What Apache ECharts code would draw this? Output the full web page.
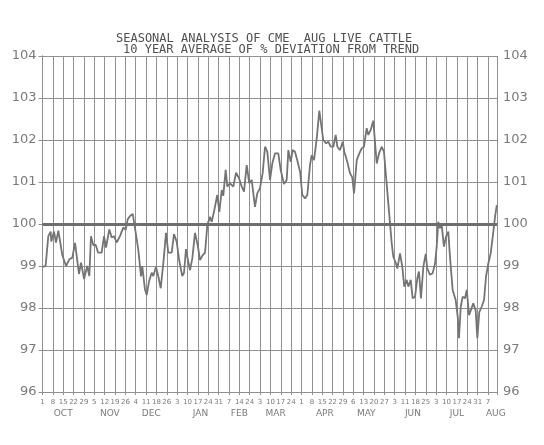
<!DOCTYPE html>
<html>
<head>
<meta charset="utf-8">
<script src="https://cdn.jsdelivr.net/npm/echarts@6/dist/echarts.min.js"></script>
<style>
  html, body { margin: 0; padding: 0; background: #fff; }
  #seasonal { width: 544px; height: 445px; }
</style>
</head>
<body>
<div id="seasonal"></div>
<script>
// week ticks, Oct 1 .. Aug 7 (one per grid line)
const weekLabels = ['1', '8', '15', '22', '29', '5', '12', '19', '26', '4', '11', '18', '26',
    '3', '10', '17', '24', '31', '7', '14', '24', '3', '10', '17', '24', '1', '8', '15', '22', '29',
    '6', '13', '20', '27', '3', '11', '18', '25', '3', '10', '17', '24', '31', '7'];
const monthNames = ['OCT', 'NOV', 'DEC', 'JAN', 'FEB', 'MAR', 'APR', 'MAY', 'JUN', 'JUL', 'AUG'];
const monthPos = [2, 6.5, 10.5, 15.25, 19, 22.5, 27.25, 31.25, 35.75, 40, 43.75];
const yTicks = [96, 97, 98, 99, 100, 101, 102, 103, 104];

// position in weeks since Oct 1
const weekPos = [0, 0.3, 0.56, 0.79, 0.85, 1.11, 1.3, 1.53, 1.69, 1.91, 2.27, 2.59, 2.88, 3.14, 3.52, 3.72,
    4.01, 4.1, 4.32, 4.52, 4.68, 4.9, 5.14, 5.36, 5.71, 5.94, 6.13, 6.45, 6.68, 6.9, 7.16, 7.48, 7.8,
    8.03, 8.22, 8.45, 8.71, 8.93, 9.25, 9.51, 9.63, 9.89, 10.06, 10.28, 10.54, 10.69, 10.96, 11.18,
    11.41, 11.66, 11.92, 12.14, 12.47, 12.69, 12.95, 13.2, 13.49, 13.66, 13.85, 14.07, 14.24, 14.46,
    14.72, 14.98, 15.2, 15.42, 15.69, 15.91, 16.17, 16.33, 16.55, 16.87, 17.07, 17.3, 17.45, 17.68,
    17.84, 18.1, 18.42, 18.68, 18.97, 19.23, 19.45, 19.71, 19.96, 20.19, 20.51, 20.73, 20.99, 21.25,
    21.48, 21.7, 21.96, 22.18, 22.44, 22.76, 22.99, 23.31, 23.57, 23.73, 23.96, 24.15, 24.37, 24.59,
    24.86, 25.08, 25.34, 25.56, 25.82, 25.98, 26.21, 26.47, 26.72, 26.88, 27.1, 27.37, 27.59, 27.82,
    28.07, 28.3, 28.46, 28.72, 28.98, 29.13, 29.42, 29.68, 29.9, 30.07, 30.33, 30.58, 30.81, 31.03,
    31.29, 31.45, 31.68, 31.93, 32.09, 32.26, 32.48, 32.74, 32.96, 33.16, 33.38, 33.54, 33.71, 33.86,
    34.12, 34.25, 34.51, 34.73, 34.92, 35.15, 35.31, 35.54, 35.73, 35.96, 36.18, 36.34, 36.53, 36.76,
    36.99, 37.14, 37.4, 37.66, 37.89, 38.05, 38.2, 38.37, 38.53, 38.75, 38.95, 39.17, 39.33, 39.59,
    39.88, 40.08, 40.2, 40.37, 40.56, 40.78, 40.95, 41.17, 41.36, 41.58, 41.81, 41.97, 42.16, 42.39,
    42.62, 42.81, 43.03, 43.26, 43.46, 43.68, 43.85];

// 10 year average, % of trend
const deviation = [98.98, 99.0, 99.71, 99.82, 99.58, 99.82, 99.56, 99.84, 99.82, 99.26, 99.0, 99.16, 99.2,
    99.55, 98.81, 99.08, 98.69, 98.65, 99.0, 98.76, 99.71, 99.5, 99.5, 99.32, 99.32, 99.71, 99.44,
    99.87, 99.68, 99.71, 99.56, 99.71, 99.92, 99.86, 100.11, 100.19, 100.24, 99.9, 99.38, 98.75, 99.0,
    98.44, 98.31, 98.63, 98.84, 98.76, 98.98, 98.75, 98.47, 99.06, 99.79, 99.32, 99.32, 99.76, 99.58,
    99.13, 98.76, 98.84, 99.4, 99.1, 98.9, 99.18, 99.79, 99.5, 99.14, 99.24, 99.32, 99.98, 100.17,
    100.05, 100.29, 100.69, 100.29, 100.81, 100.67, 101.29, 100.89, 100.97, 100.89, 101.22, 101.09,
    100.89, 100.77, 101.4, 100.97, 101.05, 100.41, 100.73, 100.85, 101.21, 101.84, 101.72, 101.05,
    101.44, 101.68, 101.68, 101.29, 100.95, 101.05, 101.76, 101.48, 101.76, 101.72, 101.52, 101.25,
    100.69, 100.61, 100.69, 101.4, 101.64, 101.52, 102.04, 102.7, 102.67, 102.0, 101.92, 101.96,
    101.84, 101.84, 102.12, 101.84, 101.76, 101.96, 101.72, 101.48, 101.21, 101.11, 100.73, 101.52,
    101.68, 101.8, 101.84, 102.28, 102.12, 102.24, 102.46, 101.96, 101.44, 101.68, 101.84, 101.72,
    101.13, 100.49, 100.02, 99.54, 99.22, 99.06, 98.94, 99.3, 98.98, 98.51, 98.67, 98.51, 98.67,
    98.23, 98.27, 98.71, 98.87, 98.23, 98.98, 99.29, 98.94, 98.79, 98.83, 99.06, 99.46, 100.05, 99.9,
    99.98, 99.46, 99.7, 99.82, 99.22, 98.43, 98.19, 97.79, 97.28, 98.03, 98.27, 98.23, 98.43, 97.83,
    97.86, 98.11, 97.95, 97.28, 97.9, 98.03, 98.19, 98.75, 99.06, 99.3, 99.7, 100.17, 100.45];

const chart = echarts.init(document.getElementById('seasonal'));
const gridColor = '#909090';
const textColor = '#7a7a7a';
const xMax = 43.87;

const yAxisCommon = {
    type: 'value',
    min: yTicks[0],
    max: yTicks[yTicks.length - 1],
    interval: 1,
    axisLine: {show: true, lineStyle: {color: gridColor, width: 1}},
    axisTick: {show: true, length: 4, lineStyle: {color: gridColor}},
    axisLabel: {color: textColor, fontSize: 13, fontFamily: 'DejaVu Sans', margin: 6}
};

chart.setOption({
    animation: false,
    backgroundColor: '#fff',
    title: [{
        text: 'SEASONAL ANALYSIS OF CME  AUG LIVE CATTLE',
        left: 111, top: 28,
        textStyle: {fontSize: 12, fontWeight: 'normal', color: '#505050', fontFamily: 'DejaVu Sans Mono'}
    }, {
        text: '10 YEAR AVERAGE OF % DEVIATION FROM TREND',
        left: 118, top: 39,
        textStyle: {fontSize: 12, fontWeight: 'normal', color: '#505050', fontFamily: 'DejaVu Sans Mono'}
    }],
    grid: {left: 42.5, right: 47, top: 56, bottom: 53},
    xAxis: [{
        type: 'value',
        min: 0,
        max: xMax,
        interval: 1,
        axisLine: {show: true, onZero: false, lineStyle: {color: gridColor}},
        axisTick: {show: true, length: 3, lineStyle: {color: gridColor}},
        splitLine: {show: true, lineStyle: {color: gridColor, width: 1}},
        axisLabel: {
            color: textColor, fontSize: 7, fontFamily: 'DejaVu Sans', margin: 7,
            formatter: v => weekLabels[Math.round(v)] || ''
        }
    }, {
        type: 'value',
        min: 0,
        max: xMax,
        interval: 0.25,
        position: 'bottom',
        offset: 11,
        axisLine: {show: false},
        axisTick: {show: false},
        splitLine: {show: false},
        axisLabel: {
            color: textColor, fontSize: 9, fontFamily: 'DejaVu Sans', margin: 6,
            formatter: v => {
                const i = monthPos.indexOf(Math.round(v * 4) / 4);
                return i >= 0 ? monthNames[i] : '';
            }
        }
    }],
    yAxis: [
        Object.assign({}, yAxisCommon, {
            position: 'left',
            splitLine: {show: true, lineStyle: {color: gridColor, width: 1}}
        }),
        Object.assign({}, yAxisCommon, {
            position: 'right',
            splitLine: {show: false}
        })
    ],
    series: [{
        type: 'line',
        xAxisIndex: 0,
        yAxisIndex: 0,
        data: weekPos.map((w, i) => [w, deviation[i]]),
        showSymbol: false,
        lineStyle: {color: '#747474', width: 1.8},
        z: 3,
        markLine: {
            silent: true,
            symbol: 'none',
            label: {show: false},
            lineStyle: {color: '#6e6e6e', width: 3, type: 'solid'},
            data: [{yAxis: 100}]
        }
    }]
});
</script>
</body>
</html>
